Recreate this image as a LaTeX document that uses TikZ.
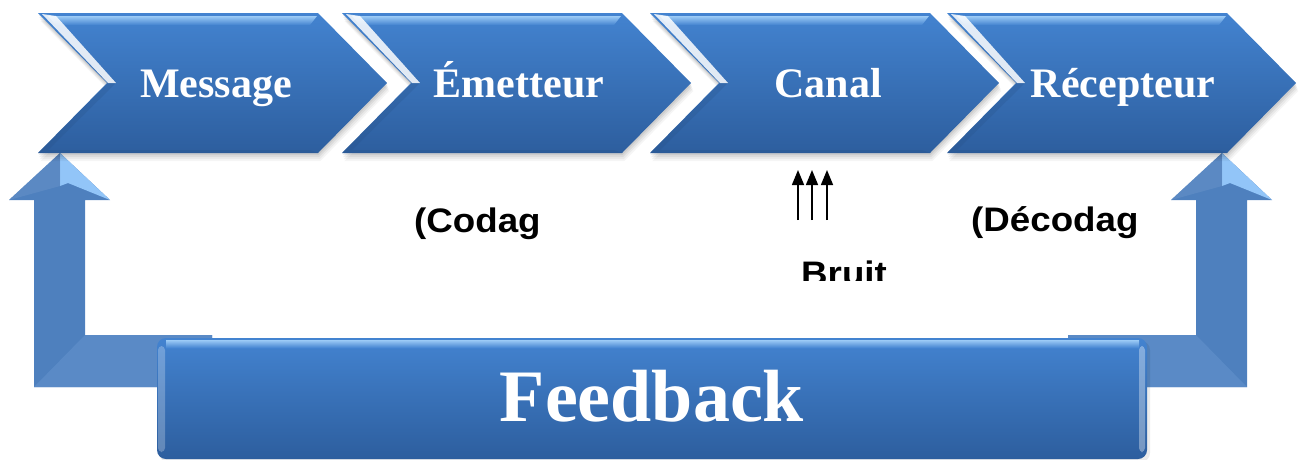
\documentclass[tikz,border=0pt]{standalone}
\usepackage{fontspec}
\setmainfont{Liberation Serif}
\newfontfamily\labelfont{Liberation Sans}
\usetikzlibrary{arrows.meta}

\definecolor{chevtop}{HTML}{4383D0}
\definecolor{chevbot}{HTML}{2D5E9E}
\definecolor{chevhi}{HTML}{9CCBF6}
\definecolor{fbarrow}{HTML}{4E80BE}
\definecolor{fbarrowlt}{HTML}{5A8AC6}
\definecolor{fbhead}{HTML}{92C5F8}

\tikzset{
  x=1pt, y=-1pt,
  stagetext/.style={text=white, font=\fontsize{42}{48}\selectfont\bfseries,
    inner sep=0pt, anchor=base},
  notetext/.style={font=\labelfont\fontsize{34}{40}\selectfont\bfseries,
    xscale=1.08, inner sep=0pt, anchor=base west},
  noisearrow/.style={-{Triangle[length=15pt,width=12pt]}, line width=1.5pt},
}

% one chevron step whose top-left corner is at x = #1
\newcommand\stepchevron[1]{%
  \foreach \d/\o in {2/0.07,4/0.06,6/0.05,8/0.04}{
    \fill[black, opacity=\o] (#1+\d*0.3,13+\d) -- (#1+280+\d*0.3,13+\d)
      -- (#1+349+\d*0.3,83+\d) -- (#1+280+\d*0.3,153+\d) -- (#1+\d*0.3,153+\d)
      -- (#1+69+\d*0.3,83+\d) -- cycle;
  }
  \shade[top color=chevtop, bottom color=chevbot]
    (#1,13) -- (#1+280,13) -- (#1+349,83) -- (#1+280,153) -- (#1,153)
    -- (#1+69,83) -- cycle;
  % top bevel
  \shade[top color=chevhi, bottom color=chevtop]
    (#1+10,16) -- (#1+279,16) -- (#1+272,25) -- (#1+18,25) -- cycle;
  % lit upper-left edge of the notch
  \fill[white, opacity=0.85]
    (#1+4,14) -- (#1+18,16) -- (#1+78,83) -- (#1+70,83) -- cycle;
  % darker lower bevel
  \fill[chevbot!80!black, opacity=0.2]
    (#1+70,83) -- (#1+78,83) -- (#1+10,150) -- (#1+272,150) -- (#1+280,153)
    -- (#1,153) -- cycle;
}

\begin{document}
\begin{tikzpicture}
\useasboundingbox (0,0) rectangle (1302,459);

% ---- feedback return arrows ----
\fill[fbarrow] (34,387) -- (34,200) -- (9,200) -- (60,153) -- (110,200)
  -- (85,200) -- (85,335) -- (212,335) -- (212,387) -- cycle;
\fill[fbarrowlt] (34,387) -- (85,335) -- (212,335) -- (212,387) -- cycle;
\fill[fbhead] (60,153) -- (110,200) -- (68,183) -- (60,186) -- cycle;
\fill[fbarrow!85!white, opacity=0.5] (60,153) -- (60,186) -- (9,200) -- cycle;

\fill[fbarrow] (1247,387) -- (1247,200) -- (1272,200) -- (1222,153)
  -- (1171,200) -- (1196,200) -- (1196,335) -- (1068,335) -- (1068,387) -- cycle;
\fill[fbarrowlt] (1247,387) -- (1196,335) -- (1068,335) -- (1068,387) -- cycle;
\fill[fbhead] (1222,153) -- (1272,200) -- (1230,183) -- (1222,186) -- cycle;
\fill[fbarrow!85!white, opacity=0.5] (1222,153) -- (1222,186) -- (1171,200) -- cycle;

% ---- process chain ----
\stepchevron{38}
\stepchevron{342}
\stepchevron{650}
\stepchevron{947}

\node[stagetext] (msg) at (216,97) {Message};
\node[stagetext] (emt) at (519,97) {Émetteur};
\node[stagetext] (can) at (828,97) {Canal};
\node[stagetext] (rec) at (1123,97) {Récepteur};

% ---- feedback box ----
\fill[black, opacity=0.08, rounded corners=9] (159,341) rectangle (1150,462);
\shade[top color=chevtop, bottom color=chevbot, rounded corners=9]
  (157,338) rectangle (1147,459);
\shade[top color=chevhi, bottom color=chevtop]
  (166,340) rectangle (1139,348);
\fill[white, opacity=0.25, rounded corners=4] (158,346) rectangle (165,452);
\fill[white, opacity=0.35, rounded corners=4] (1139,346) rectangle (1145,452);
\node[text=white, font=\fontsize{74}{80}\selectfont\bfseries,
  inner sep=0pt, anchor=base] (fb) at (652,421) {Feedback};

% ---- notes under the chain ----
\node[notetext] (cod) at (414,232) {(Codag};
\node[notetext] (dec) at (971,231) {(Décodag};
\begin{scope}
  \clip (780,240) rectangle (900,280);
  \node[notetext] (bruit) at (801,285) {Bruit};
\end{scope}

% noise acting on the channel
\foreach \i/\xx in {1/798,2/812,3/827}{
  \coordinate (nb\i) at (\xx,220);
  \coordinate (nt\i) at (\xx,170);
  \draw[noisearrow] (nb\i) -- (nt\i);
}
\end{tikzpicture}
\end{document}
